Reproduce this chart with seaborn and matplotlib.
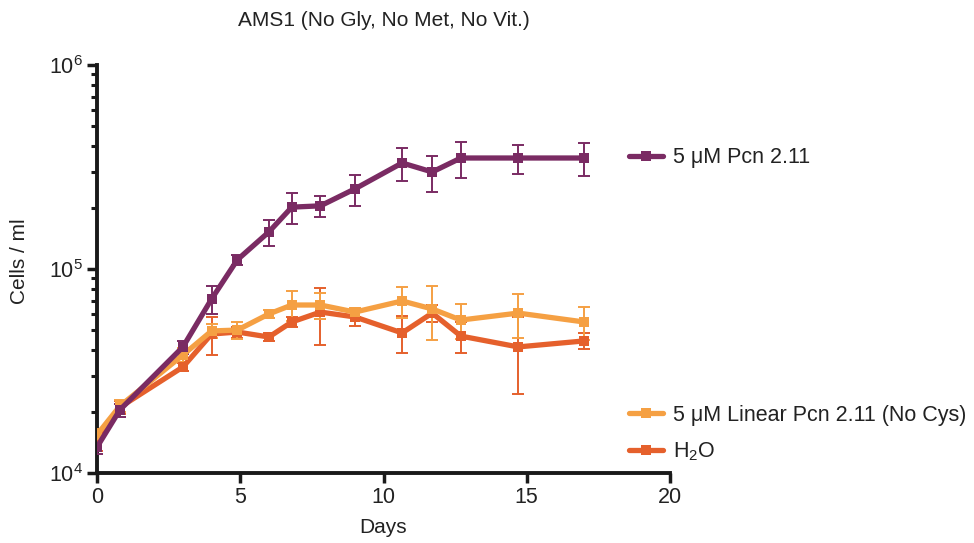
import numpy as np
import pandas as pd
import matplotlib
matplotlib.use("Agg")
import matplotlib.pyplot as plt
from matplotlib.lines import Line2D
from matplotlib.ticker import LogLocator, FixedLocator
import seaborn as sns

# ---------------- data ----------------
days = [0, 0.8, 3.0, 4.0, 4.9, 6.0, 6.8, 7.8, 9.0, 10.65, 11.7, 12.7, 14.7, 17.0]

pcn = [1.34e4, 2.04e4, 4.15e4, 7.13e4, 1.11e5, 1.52e5, 2.01e5, 2.04e5,
       2.47e5, 3.31e5, 2.99e5, 3.50e5, 3.50e5, 3.50e5]
pcn_err = [1.0e3, 1.5e3, 3.0e3, 1.1e4, 6.0e3, 2.2e4, 3.5e4, 2.5e4,
           4.3e4, 6.0e4, 6.0e4, 7.0e4, 5.7e4, 6.4e4]

linear = [1.54e4, 2.13e4, 3.79e4, 4.97e4, 5.02e4, 6.02e4, 6.66e4, 6.66e4,
          6.15e4, 6.97e4, 6.37e4, 5.62e4, 6.08e4, 5.50e4]
linear_err = [1.0e3, 1.5e3, 3.0e3, 4.0e3, 5.0e3, 3.0e3, 1.1e4, 1.0e4,
              3.0e3, 1.2e4, 1.9e4, 1.1e4, 1.5e4, 1.0e4]

water = [1.38e4, 2.10e4, 3.31e4, 4.80e4, 4.91e4, 4.64e4, 5.50e4, 6.15e4,
         5.82e4, 4.86e4, 6.08e4, 4.69e4, 4.15e4, 4.44e4]
water_err = [1.0e3, 1.5e3, 1.5e3, 1.0e4, 3.0e3, 2.0e3, 3.0e3, 1.9e4,
             5.5e3, 1.0e4, 6.0e3, 8.0e3, 1.7e4, 4.0e3]

series_names = ["5 \u03bcM Pcn 2.11", "5 \u03bcM Linear Pcn 2.11 (No Cys)", "H$_2$O"]
colors = ["#7A2B63", "#F5A043", "#E5602C"]

x_ticks = [0, 5, 10, 15, 20]
title = "AMS1 (No Gly, No Met, No Vit.)"
x_label = "Days"
y_label = "Cells / ml"

# ---------------- style ----------------
sns.set_theme(style="ticks")
plt.rcParams["font.family"] = ["Liberation Sans", "DejaVu Sans"]
plt.rcParams["mathtext.fontset"] = "custom"
plt.rcParams["mathtext.rm"] = "Liberation Sans"
plt.rcParams["mathtext.it"] = "Liberation Sans"
plt.rcParams["mathtext.default"] = "regular"

df = pd.concat([
    pd.DataFrame({"Days": days, "Cells": vals, "err": errs, "Series": name})
    for name, vals, errs in zip(series_names,
                                [pcn, linear, water],
                                [pcn_err, linear_err, water_err])
], ignore_index=True)

fig = plt.figure(figsize=(9.74, 5.43), dpi=100)
ax = fig.add_axes([97 / 974, 1 - 473 / 543, (670 - 97) / 974, (473 - 65) / 543])

# draw order: water, linear, pcn (pcn on top)
order = [2, 1, 0]
for i in order:
    name = series_names[i]
    sub = df[df["Series"] == name]
    ax.errorbar(sub["Days"], sub["Cells"], yerr=sub["err"], fmt="none",
                ecolor=colors[i], elinewidth=1.4, capsize=4.5, capthick=1.4,
                zorder=2 + (3 - i))

palette = dict(zip(series_names, colors))
sns.lineplot(data=df, x="Days", y="Cells", hue="Series", palette=palette,
             hue_order=[series_names[i] for i in order],
             estimator=None, errorbar=None, sort=True,
             marker="s", markersize=6.5, markeredgewidth=0,
             linewidth=3.8, legend=False, ax=ax, zorder=5)

ax.set_yscale("log")
ax.set_ylim(1e4, 1e6)
ax.set_xlim(0, 20)
ax.set_xticks(x_ticks)
ax.set_xticklabels([str(t) for t in x_ticks])
ax.yaxis.set_major_locator(FixedLocator([1e4, 1e5, 1e6]))
ax.set_yticklabels(["$10^{4}$", "$10^{5}$", "$10^{6}$"])
ax.yaxis.set_minor_locator(LogLocator(base=10, subs=np.arange(2, 10), numticks=20))
ax.yaxis.set_minor_formatter(plt.NullFormatter())

for s in ["top", "right"]:
    ax.spines[s].set_visible(False)
for s in ["left", "bottom"]:
    ax.spines[s].set_linewidth(2.8)
    ax.spines[s].set_color("#1a1a1a")
    ax.spines[s].set_capstyle("projecting")

ax.tick_params(axis="both", which="major", direction="out", length=7, width=2.5,
               color="#1a1a1a", labelsize=15.5, pad=3, labelcolor="#222222")
ax.tick_params(axis="y", which="minor", direction="out", length=4.5, width=2.2,
               color="#1a1a1a")

ax.set_xlabel(x_label, fontsize=15, color="#222222", labelpad=7)
ax.set_ylabel(y_label, fontsize=15, color="#222222")
ax.yaxis.set_label_coords(-0.118, 0.52)
ax.set_title(title, fontsize=15, color="#222222", pad=28)
ax.grid(False)

# legend entries placed beside the curves
legend_y = {0: 158, 1: 415, 2: 452}
for i in [0, 1, 2]:
    h = Line2D([], [], color=colors[i], linewidth=3.8, marker="s",
               markersize=6.5, markeredgewidth=0)
    leg = fig.legend(handles=[h], labels=[series_names[i]],
                     loc="center left",
                     bbox_to_anchor=(629 / 974, 1 - legend_y[i] / 543),
                     frameon=False, fontsize=15.5, handlelength=1.6,
                     handletextpad=0.45, borderaxespad=0, borderpad=0)
    for t in leg.get_texts():
        t.set_color("#222222")

fig.savefig("out.png", dpi=100)
